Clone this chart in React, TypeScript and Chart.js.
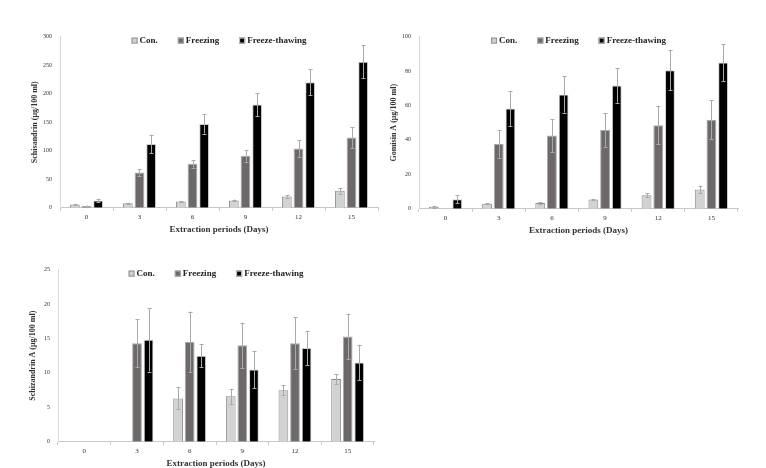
import React, { useEffect, useRef } from "react";
import { Chart, registerables } from "chart.js";

Chart.register(...registerables);

const categories = ["0", "3", "6", "9", "12", "15"];
const seriesNames = ["Con.", "Freezing", "Freeze-thawing"];

// Panel 1: Schisandrin
const schisandrinCon = [6, 8, 11, 13, 20, 30];
const schisandrinFreezing = [3, 62, 77, 91, 104, 123];
const schisandrinFT = [13, 112, 147, 181, 220, 256];
const schisandrinConErr = [1, 1, 0.5, 1.5, 2, 5];
const schisandrinFreezingErr = [1, 6, 7, 10, 15, 18];
const schisandrinFTErr = [3, 16, 17, 20, 23, 29];

// Panel 2: Gomisin A
const gomisinCon = [1.2, 3, 3.3, 5.4, 7.8, 11.2];
const gomisinFreezing = [null, 37.7, 42.5, 45.8, 48.5, 51.7];
const gomisinFT = [5.5, 58.2, 66.4, 71.6, 80.4, 84.9];
const gomisinConErr = [0.5, 0.3, 0.5, 0.3, 1.2, 2.2];
const gomisinFreezingErr = [0, 8, 9.6, 9.7, 11, 11.3];
const gomisinFTErr = [2.3, 10, 10.6, 10, 11.6, 10.6];

// Panel 3: Schizandrin A
const schizandrinCon = [null, null, 6.3, 6.6, 7.5, 9.1];
const schizandrinFreezing = [null, 14.3, 14.5, 14.0, 14.3, 15.3];
const schizandrinFT = [null, 14.8, 12.5, 10.5, 13.6, 11.5];
const schizandrinConErr = [0, 0, 1.6, 1.1, 0.7, 0.7];
const schizandrinFreezingErr = [0, 3.5, 4.4, 3.3, 3.8, 3.3];
const schizandrinFTErr = [0, 4.6, 1.7, 2.7, 2.5, 2.6];

const fills = ["#d2d2d2", "#6e6969", "#000000"];
const borders = ["#8e8e8e", "#a8a8a8", "#cfcfcf"];
const SERIF = "'Liberation Serif', 'DejaVu Serif', serif";

const errorBarPlugin = {
  id: "errorBars",
  afterDatasetsDraw(chart: any) {
    const ctx = chart.ctx;
    const yScale = chart.scales.y;
    ctx.save();
    ctx.strokeStyle = "#a9a9a9";
    ctx.lineWidth = 1;
    chart.data.datasets.forEach((ds: any, di: number) => {
      const meta = chart.getDatasetMeta(di);
      meta.data.forEach((bar: any, i: number) => {
        const v = ds.data[i];
        const e = ds.errors ? ds.errors[i] : 0;
        if (v == null || !e) return;
        const x = Math.round(bar.x) + 0.5;
        const yTop = yScale.getPixelForValue(v + e);
        const yBot = yScale.getPixelForValue(v - e);
        ctx.beginPath();
        ctx.moveTo(x, yTop);
        ctx.lineTo(x, yBot);
        ctx.moveTo(x - 2, Math.round(yTop) + 0.5);
        ctx.lineTo(x + 2, Math.round(yTop) + 0.5);
        ctx.moveTo(x - 2, Math.round(yBot) + 0.5);
        ctx.lineTo(x + 2, Math.round(yBot) + 0.5);
        ctx.stroke();
      });
    });
    ctx.restore();
  },
};

// Legend drawn inside the top of the chart area, centred, like the reference.
const topLegendPlugin = {
  id: "topLegend",
  afterDraw(chart: any) {
    const ctx = chart.ctx;
    const area = chart.chartArea;
    const ds = chart.data.datasets;
    const box = 6;
    const gapBoxText = 2;
    const gapItems = 20;
    ctx.save();
    ctx.font = `bold 9px ${SERIF}`;
    const widths = ds.map((d: any) => box + gapBoxText + ctx.measureText(d.label).width);
    const total = widths.reduce((a: number, b: number) => a + b, 0) + gapItems * (ds.length - 1);
    let x = (area.left + area.right) / 2 - total / 2;
    const y = area.top + 4;
    ds.forEach((d: any, i: number) => {
      ctx.fillStyle = d.backgroundColor;
      ctx.fillRect(x, y - box / 2, box, box);
      ctx.strokeStyle = d.borderColor;
      ctx.lineWidth = 1;
      ctx.strokeRect(x + 0.5, y - box / 2 + 0.5, box - 1, box - 1);
      ctx.fillStyle = "#222";
      ctx.textBaseline = "middle";
      ctx.textAlign = "left";
      ctx.fillText(d.label, x + box + gapBoxText, y + 0.5);
      x += widths[i] + gapItems;
    });
    ctx.restore();
  },
};

function makeConfig(
  values: (number | null)[][],
  errors: number[][],
  yTitle: string,
  yMax: number,
  yStep: number,
  axisWidth: number
): any {
  return {
    type: "bar",
    data: {
      labels: categories,
      datasets: seriesNames.map((name, k) => ({
        label: name,
        data: values[k],
        errors: errors[k],
        backgroundColor: fills[k],
        borderColor: borders[k],
        borderWidth: 1,
        categoryPercentage: 0.66,
        barPercentage: 0.84,
      })),
    },
    options: {
      responsive: false,
      animation: false,
      devicePixelRatio: 1,
      layout: { padding: { left: 0, right: 2, top: 0, bottom: 0 } },
      plugins: {
        legend: { display: false },
        tooltip: { enabled: false },
      },
      scales: {
        x: {
          grid: {
            display: true,
            offset: true,
            drawOnChartArea: false,
            drawTicks: true,
            tickLength: 3,
            color: "#c8c8c8",
          },
          border: { color: "#c8c8c8" },
          ticks: {
            color: "#333",
            padding: 2,
            font: { family: SERIF, size: 7 },
          },
          title: {
            display: true,
            text: "Extraction periods (Days)",
            color: "#333",
            padding: { top: 1, bottom: 0 },
            font: { family: SERIF, size: 9, weight: "bold" },
          },
        },
        y: {
          min: 0,
          max: yMax,
          grid: { display: false, drawTicks: false },
          border: { color: "#d8d8d8" },
          ticks: {
            stepSize: yStep,
            color: "#333",
            padding: 8,
            font: { family: SERIF, size: 6 },
          },
          title: {
            display: true,
            text: yTitle,
            color: "#333",
            padding: 0,
            font: { family: SERIF, size: 8, weight: "bold" },
          },
          afterFit: (scale: any) => {
            scale.width = axisWidth;
          },
        },
      },
    },
    plugins: [errorBarPlugin, topLegendPlugin],
  };
}

function Panel(props: {
  left: number;
  top: number;
  width: number;
  height: number;
  config: any;
}) {
  const ref = useRef<HTMLCanvasElement>(null);
  useEffect(() => {
    if (!ref.current) return;
    const chart = new Chart(ref.current, props.config);
    return () => chart.destroy();
  }, []);
  return (
    <canvas
      ref={ref}
      width={props.width}
      height={props.height}
      style={{
        position: "absolute",
        left: props.left,
        top: props.top,
        width: props.width,
        height: props.height,
      }}
    />
  );
}

export default function App() {
  useEffect(() => {
    document.body.style.margin = "0";
  }, []);
  return (
    <div style={{ position: "relative", width: 766, height: 468, background: "#fff" }}>
      <Panel
        left={30}
        top={25}
        width={350}
        height={210}
        config={makeConfig(
          [schisandrinCon, schisandrinFreezing, schisandrinFT],
          [schisandrinConErr, schisandrinFreezingErr, schisandrinFTErr],
          "Schisandrin (μg/100 ml)",
          300,
          50,
          30
        )}
      />
      <Panel
        left={389}
        top={25}
        width={351}
        height={211}
        config={makeConfig(
          [gomisinCon, gomisinFreezing, gomisinFT],
          [gomisinConErr, gomisinFreezingErr, gomisinFTErr],
          "Gomisin A (μg/100 ml)",
          100,
          20,
          30
        )}
      />
      <Panel
        left={28}
        top={258}
        width={348}
        height={211}
        config={makeConfig(
          [schizandrinCon, schizandrinFreezing, schizandrinFT],
          [schizandrinConErr, schizandrinFreezingErr, schizandrinFTErr],
          "Schizandrin A (μg/100 ml)",
          25,
          5,
          30
        )}
      />
    </div>
  );
}
